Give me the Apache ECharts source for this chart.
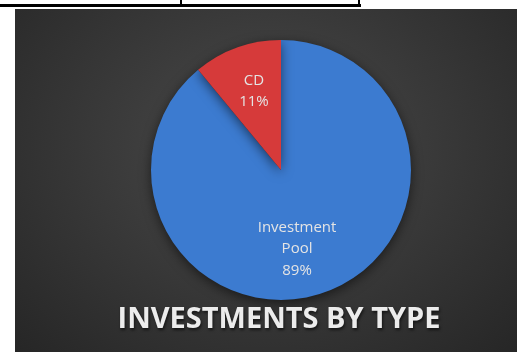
<!DOCTYPE html>
<html>
<head>
<meta charset="utf-8">
<script src="https://cdn.jsdelivr.net/npm/echarts@6/dist/echarts.min.js"></script>
<style>
  html, body { margin: 0; padding: 0; background: #ffffff; width: 519px; height: 352px; overflow: hidden; }
  #panel { position: absolute; left: 15px; top: 9px; width: 502px; height: 343px;
    background: radial-gradient(ellipse at 50% 40%, #4a4a4a 0%, #3a3a3a 45%, #262626 100%); }
  #hline { position: absolute; left: 0; top: 4px; width: 361px; height: 3px; background: #000; }
  #v1 { position: absolute; left: 180px; top: 0; width: 2px; height: 5px; background: #000; }
  #v2 { position: absolute; left: 358px; top: 0; width: 2px; height: 7px; background: #000; }
  #chart { position: absolute; left: 0; top: 0; width: 519px; height: 352px; }
</style>
</head>
<body>
<div id="panel"></div>
<div id="hline"></div>
<div id="v1"></div>
<div id="v2"></div>
<div id="chart"></div>
<script>
const categories = ['Investment Pool', 'CD'];
const labelNames = ['Investment\nPool', 'CD'];
const values = [89, 11];
const colors = ['#3c7bd0', '#d63a3a'];
const titleText = 'INVESTMENTS BY TYPE';

const labelShift = [[-7, 15], [-4, -15]];

const chart = echarts.init(document.getElementById('chart'), null, { renderer: 'canvas' });
chart.setOption({
  backgroundColor: 'transparent',
  animation: false,
  title: {
    text: titleText,
    left: 274,
    top: 300,
    textAlign: 'center',
    textStyle: {
      fontFamily: 'Open Sans',
      fontWeight: 'bold',
      fontSize: 29,
      color: '#ececec',
      textShadowColor: 'rgba(0,0,0,0.6)',
      textShadowBlur: 3,
      textShadowOffsetX: 1,
      textShadowOffsetY: 2
    }
  },
  series: [{
    type: 'pie',
    center: [281, 170],
    radius: [0, 130],
    startAngle: 90,
    clockwise: true,
    data: categories.map((c, i) => ({
      name: c,
      value: values[i],
      itemStyle: { color: colors[i] }
    })),
    itemStyle: {
      borderWidth: 0,
      shadowBlur: 12,
      shadowColor: 'rgba(0,0,0,0.55)',
      shadowOffsetY: 3
    },
    label: {
      show: true,
      position: 'inside',
      formatter: p => labelNames[p.dataIndex] + '\n' + p.value + '%',
      fontFamily: 'Open Sans',
      fontSize: 15,
      lineHeight: 21.5,
      color: '#e4e4e4',
      align: 'center'
    },
    labelLine: { show: false },
    labelLayout: p => ({ dx: labelShift[p.dataIndex][0], dy: labelShift[p.dataIndex][1] }),
    emphasis: { disabled: true }
  }]
});
</script>
</body>
</html>
